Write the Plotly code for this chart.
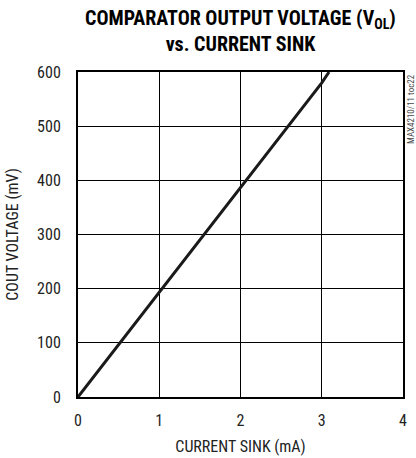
import plotly.graph_objects as go

current_ma = [0, 0.5, 1.0, 1.5, 2.0, 2.5, 3.0, 3.09]
vol_mv = [0, 97, 193, 290, 386, 483, 580, 600]

x_ticks = [0, 1, 2, 3, 4]
y_ticks = [0, 100, 200, 300, 400, 500, 600]

FONT = "Liberation Sans Narrow, Arial Narrow, Roboto Condensed, DejaVu Sans Condensed, Roboto, sans-serif"

fig = go.Figure()
fig.add_trace(go.Scatter(x=current_ma, y=vol_mv, mode="lines",
                         line=dict(color="#1a1a1a", width=3), showlegend=False))

axis_common = dict(showline=True, linecolor="black", linewidth=2, mirror=True,
                   showgrid=True, gridcolor="black", gridwidth=1, automargin=False,
                   zeroline=False, ticks="", tickfont=dict(family=FONT, size=16, color="#222"))

fig.update_xaxes(range=[0, 4], tickvals=x_ticks, ticklabelstandoff=8,
                 title=dict(text="CURRENT SINK (mA)", font=dict(family=FONT, size=16, color="#222"), standoff=12),
                 **axis_common)
fig.update_yaxes(range=[0, 600], tickvals=y_ticks, ticklabelstandoff=12,
                 title=dict(text="COUT VOLTAGE (mV)", font=dict(family=FONT, size=16, color="#222"), standoff=14),
                 **axis_common)

fig.add_annotation(text="<b>COMPARATOR OUTPUT VOLTAGE (V<sub>OL</sub>)</b><br><b>vs. CURRENT SINK</b>",
                   xref="paper", yref="paper", x=0.5, y=1.0, yshift=14,
                   xanchor="center", yanchor="bottom", showarrow=False,
                   font=dict(family=FONT, size=20, color="black"))
fig.add_annotation(text="MAX4210/11 toc22", xref="paper", yref="paper",
                   x=1.0, y=1.0, xshift=8, xanchor="center", yanchor="top",
                   textangle=-90, showarrow=False,
                   font=dict(family=FONT, size=9, color="#444"))

fig.update_layout(width=416, height=458,
                  margin=dict(l=78, r=13, t=72, b=61),
                  plot_bgcolor="white", paper_bgcolor="white")

fig.write_html("out.html", config={"displayModeBar": False, "staticPlot": True},
               post_script="document.body.style.margin='0';document.body.style.overflow='hidden';")
